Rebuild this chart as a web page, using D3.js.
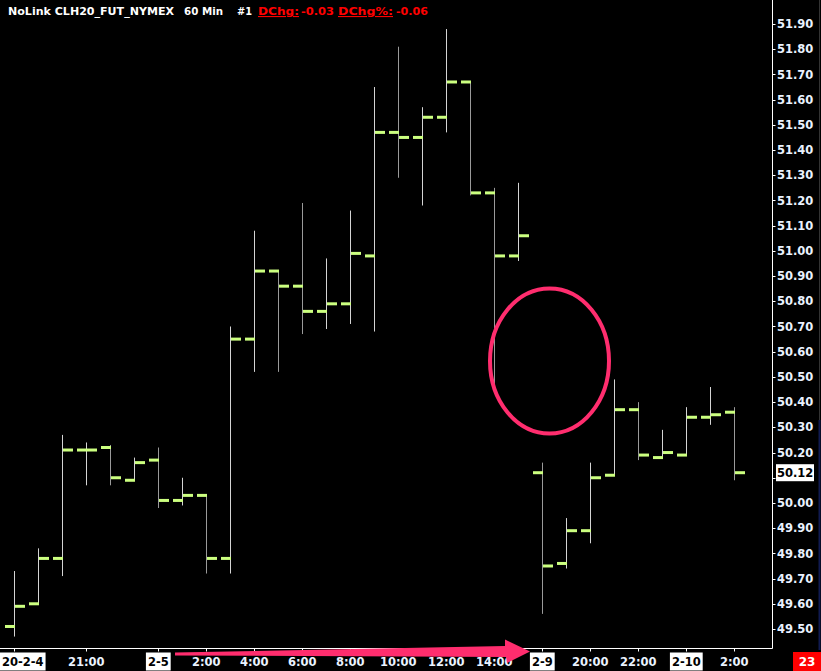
<!DOCTYPE html>
<html>
<head>
<meta charset="utf-8">
<script src="https://cdn.jsdelivr.net/npm/d3@7"></script>
<style>
  body { margin: 0; background: #000; }
  svg { display: block; }
  text { font-family: "DejaVu Sans", Verdana, sans-serif; font-weight: bold; }
</style>
</head>
<body>
<svg id="chart" width="821" height="671"></svg>
<script>
// 60 min bars, CLH20
var times = ["18:00","19:00","20:00","21:00","22:00","23:00","0:00","1:00","2:00","3:00",
  "4:00","5:00","6:00","7:00","8:00","9:00","10:00","11:00","12:00","13:00","14:00","15:00",
  "b18:00","b19:00","b20:00","b21:00","b22:00","b23:00","b0:00","b1:00","b2:00"];
var opens  = [49.51,49.60,49.78,50.21,50.22,50.09,50.17,50.01,50.03,49.78,50.65,50.92,50.86,50.76,50.79,50.98,
  51.47,51.45,51.53,51.67,51.23,50.98,50.12,49.76,49.89,50.11,50.37,50.18,50.19,50.34,50.36];
var highs  = [49.73,49.82,50.27,50.24,50.23,50.18,50.22,50.10,50.03,50.70,51.08,50.92,51.19,50.97,51.16,51.65,
  51.81,51.57,51.88,51.67,51.25,51.27,50.16,49.94,50.16,50.49,50.40,50.29,50.38,50.46,50.38];
var lows   = [49.47,49.60,49.71,50.07,50.07,50.09,49.98,49.99,49.72,49.72,50.52,50.52,50.67,50.69,50.71,50.68,
  51.29,51.18,51.47,51.22,50.47,50.96,49.56,49.74,49.84,50.11,50.17,50.18,50.19,50.31,50.09];
var closes = [49.59,49.78,50.21,50.21,50.10,50.16,50.01,50.03,49.78,50.65,50.92,50.86,50.76,50.79,50.99,51.47,
  51.45,51.53,51.67,51.23,50.98,51.06,49.75,49.89,50.10,50.37,50.19,50.20,50.34,50.35,50.12];

var priceTicks = d3.range(49.5, 51.95, 0.1);
var timeTickIdx = [0,3,6,8,10,12,14,16,18,20,22,24,26,28,30];
var timeTickText = ["20-2-4","21:00","2-5","2:00","4:00","6:00","8:00","10:00","12:00","14:00","2-9","20:00","22:00","2-10","2:00"];
var dateTicks = ["20-2-4","2-5","2-9","2-10"];
var lastPrice = 50.12;

var svg = d3.select("#chart");
svg.append("rect").attr("width", 821).attr("height", 671).attr("fill", "#000");

var x = d3.scalePoint().domain(times).range([14.3, 734.3]);
var y = d3.scaleLinear().domain([49.5, 51.9]).range([629, 24]);

var plotRight = 772.5, plotBottom = 648.5;

// bars
var bar = svg.append("g").selectAll("g")
    .data(times)
  .enter().append("g");

bar.append("line")
    .attr("x1", function(d) { return Math.round(x(d)) + 0.5; })
    .attr("x2", function(d) { return Math.round(x(d)) + 0.5; })
    .attr("y1", function(d, i) { return y(highs[i]); })
    .attr("y2", function(d, i) { return y(lows[i]); })
    .attr("stroke", function(d, i) { return closes[i] < opens[i] ? "#9a9a9a" : "#d4d4d4"; })
    .attr("stroke-width", 1);

bar.append("rect")
    .attr("x", function(d) { return Math.round(x(d)) - 9; })
    .attr("y", function(d, i) { return y(opens[i]) - 1.5; })
    .attr("width", 10)
    .attr("height", 3)
    .attr("fill", "#ccff80");

bar.append("rect")
    .attr("x", function(d) { return Math.round(x(d)) + 1; })
    .attr("y", function(d, i) { return y(closes[i]) - 1.5; })
    .attr("width", 10)
    .attr("height", 3)
    .attr("fill", "#ccff80");

// axes frame
svg.append("line").attr("x1", plotRight).attr("x2", plotRight).attr("y1", 0).attr("y2", plotBottom)
    .attr("stroke", "#fff");
svg.append("line").attr("x1", 0).attr("x2", plotRight).attr("y1", plotBottom).attr("y2", plotBottom)
    .attr("stroke", "#fff");

// right price axis (the label under the last price box is hidden)
var yAxis = svg.append("g");
yAxis.selectAll("line").data(priceTicks).enter().append("line")
    .attr("x1", plotRight).attr("x2", plotRight + 3)
    .attr("y1", function(d) { return Math.round(y(d)) + 0.5; })
    .attr("y2", function(d) { return Math.round(y(d)) + 0.5; })
    .attr("stroke", "#fff");
yAxis.selectAll("text").data(priceTicks.filter(function(d) { return Math.abs(d - lastPrice) > 0.05; }))
  .enter().append("text")
    .attr("x", 777)
    .attr("y", function(d) { return y(d); })
    .attr("dy", "0.36em")
    .attr("font-size", 11.5)
    .attr("fill", "#eaf2ff")
    .text(function(d) { return d3.format(".2f")(d); });

// last price marker
svg.append("rect").attr("x", 776).attr("y", y(lastPrice) - 8.5).attr("width", 38).attr("height", 17).attr("fill", "#fff");
svg.append("text").attr("x", 777).attr("y", y(lastPrice)).attr("dy", "0.36em")
    .attr("font-size", 11.5).attr("fill", "#000").text(d3.format(".2f")(lastPrice));

// bottom time axis
var xAxis = svg.append("g");
timeTickIdx.forEach(function(idx, k) {
  var label = timeTickText[k];
  var px = x(times[idx]);
  xAxis.append("line").attr("x1", Math.round(px) + 0.5).attr("x2", Math.round(px) + 0.5)
      .attr("y1", plotBottom).attr("y2", plotBottom + 3).attr("stroke", "#fff");
  var isDate = dateTicks.indexOf(label) >= 0;
  var t = xAxis.append("text")
      .attr("y", 666)
      .attr("font-size", 11.5)
      .attr("text-anchor", "middle")
      .attr("fill", isDate ? "#000" : "#eaf2ff")
      .text(label);
  var w = t.node().getComputedTextLength() + 4;
  var cx = Math.max(w / 2, px);
  t.attr("x", cx);
  if (isDate) {
    xAxis.insert("rect", "text").attr("x", cx - w / 2).attr("y", 652.5).attr("width", w).attr("height", 18).attr("fill", "#fff");
  }
});

// title pieces: [text, x, width, colour, underline]
var titleParts = [
  ["NoLink CLH20_FUT_NYMEX", 8, 166, "#fff", false],
  ["60 Min", 184, 39, "#fff", false],
  ["#1", 237, 15, "#fff", false],
  ["DChg:", 258, 41, "#ff0000", true],
  ["-0.03", 301, 33, "#ff0000", false],
  ["DChg%:", 338, 55, "#ff0000", true],
  ["-0.06", 396, 32, "#ff0000", false]
];
svg.append("g").selectAll("text").data(titleParts).enter().append("text")
    .attr("x", function(d) { return d[1]; })
    .attr("y", 15)
    .attr("font-size", 11)
    .attr("textLength", function(d) { return d[2]; })
    .attr("lengthAdjust", "spacingAndGlyphs")
    .attr("fill", function(d) { return d[3]; })
    .attr("text-decoration", function(d) { return d[4] ? "underline" : null; })
    .text(function(d) { return d[0]; });

// bar counter
svg.append("rect").attr("x", 793).attr("y", 652).attr("width", 28).attr("height", 19).attr("fill", "#ff0000");
svg.append("text").attr("x", 807).attr("y", 666).attr("text-anchor", "middle").attr("font-size", 12)
    .attr("fill", "#fff").text("23");

// edge of neighbouring panel
svg.append("line").attr("x1", 819.5).attr("x2", 819.5).attr("y1", 0).attr("y2", 420).attr("stroke", "#333");
svg.append("line").attr("x1", 819.5).attr("x2", 819.5).attr("y1", 420).attr("y2", 650).attr("stroke", "#101a50").attr("stroke-width", 2);

// annotations
svg.append("ellipse").attr("cx", 549.5).attr("cy", 361).attr("rx", 59.5).attr("ry", 72.5)
    .attr("fill", "none").attr("stroke", "#ff2d6e").attr("stroke-width", 4);
svg.append("path")
    .attr("d", "M175,652.5 L505,646 L505,639.5 L530,651.5 L507,663 L506,657 L175,655.5 Z")
    .attr("fill", "#ff2d6e");
</script>
</body>
</html>
